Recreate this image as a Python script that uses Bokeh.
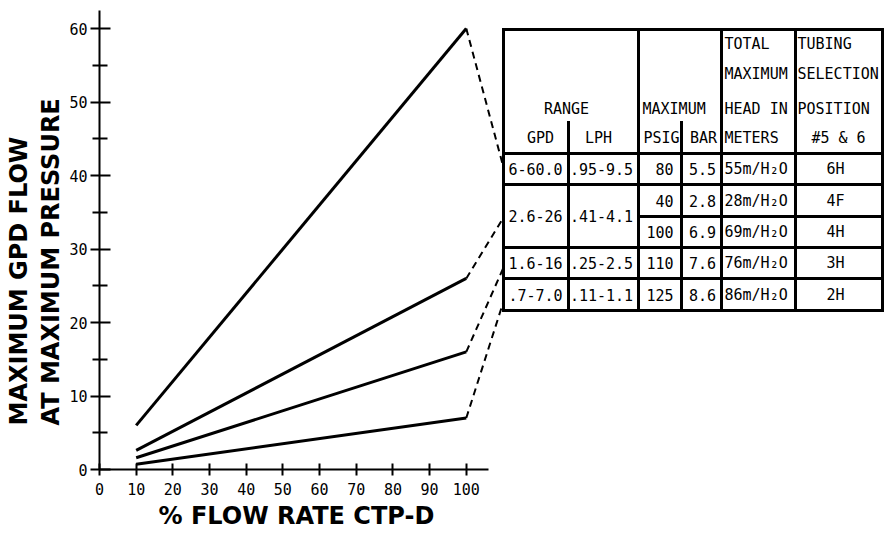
from bokeh.plotting import figure
from bokeh.models import Range1d, LinearAxis, FixedTicker, Title
from bokeh.core.properties import value
from bokeh.embed import file_html
from bokeh.resources import INLINE

# ---------------- data ----------------
flow_pct = [10, 100]
gpd_6h = [6.0, 60.0]
gpd_4h_26 = [2.6, 26.0]
gpd_3h = [1.6, 16.0]
gpd_2h = [0.7, 7.0]
series = [gpd_6h, gpd_4h_26, gpd_3h, gpd_2h]

x_ticks = [0, 10, 20, 30, 40, 50, 60, 70, 80, 90, 100]
y_ticks = [0, 10, 20, 30, 40, 50, 60]
y_minor = [5, 15, 25, 35, 45, 55]

range_gpd = ["6-60.0", "2.6-26", "1.6-16", ".7-7.0"]
range_lph = [".95-9.5", ".41-4.1", ".25-2.5", ".11-1.1"]
max_psig = ["80", "40", "100", "110", "125"]
max_bar = ["5.5", "2.8", "6.9", "7.6", "8.6"]
head_m = ["55m/H\u2082O", "28m/H\u2082O", "69m/H\u2082O", "76m/H\u2082O", "86m/H\u2082O"]
tubing = ["6H", "4F", "4H", "3H", "2H"]

# ---------------- figure ----------------
FONT = "DejaVu Sans Mono"
BOLD = "DejaVu Sans"
XR = Range1d(0, 214.3)
YR = Range1d(0, 62.45)

p = figure(width=887, height=533, output_backend="svg", toolbar_location=None,
           x_range=XR, y_range=YR, x_axis_type=None, y_axis_type=None,
           min_border_left=99, min_border_right=2, min_border_top=10, min_border_bottom=64)
p.outline_line_color = None
p.background_fill_color = "white"
p.border_fill_color = "white"
p.grid.visible = False

# pixel-space ranges for the table (page pixels)
PXR = Range1d(99, 885)
PYR = Range1d(469, 10)
p.extra_x_ranges = {"px": PXR}
p.extra_y_ranges = {"py": PYR}

def px_to_x(px):
    return XR.start + (px - PXR.start) / (PXR.end - PXR.start) * (XR.end - XR.start)

def py_to_y(py):
    return YR.start + (py - PYR.start) / (PYR.end - PYR.start) * (YR.end - YR.start)

xaxis = LinearAxis(ticker=FixedTicker(ticks=x_ticks), bounds=(0, 106))
xaxis.axis_line_width = 2
xaxis.major_tick_line_width = 2
xaxis.major_tick_in = 6
xaxis.major_tick_out = 6
xaxis.minor_tick_line_color = None
xaxis.major_label_standoff = 7
xaxis.major_label_text_font = FONT
xaxis.major_label_text_font_size = "15px"
xaxis.major_label_text_color = "black"
p.add_layout(xaxis, "below")

yaxis = LinearAxis(ticker=FixedTicker(ticks=y_ticks, minor_ticks=y_minor), bounds=(0, 62.4))
yaxis.axis_line_width = 2
yaxis.major_tick_line_width = 2
yaxis.minor_tick_line_width = 2
yaxis.major_tick_in = 11
yaxis.major_tick_out = 9
yaxis.minor_tick_in = 8
yaxis.minor_tick_out = 7
yaxis.major_label_standoff = 3
yaxis.major_label_text_font = FONT
yaxis.major_label_text_font_size = "15px"
yaxis.major_label_text_color = "black"
p.add_layout(yaxis, "left")

# axis titles (as side titles so they are not clipped)
t_kw = dict(text_font=BOLD, text_font_style="bold", text_font_size="24px",
            text_color="black", align="left")
p.add_layout(Title(text="AT MAXIMUM PRESSURE", offset=44, standoff=4, **t_kw), "left")
p.add_layout(Title(text="MAXIMUM GPD FLOW", offset=44, standoff=0, **t_kw), "left")
p.add_layout(Title(text="% FLOW RATE CTP-D", offset=59, standoff=4, **t_kw), "below")

# solid lines
for s in series:
    p.line(flow_pct, s, line_color="black", line_width=3)

# dashed leaders from line ends to table rows (table anchors in pixels)
anchor_py = [167, 217, 267, 301]
TABLE_L = 503
for s, apy in zip(series, anchor_py):
    p.line([flow_pct[-1], px_to_x(TABLE_L)], [s[-1], py_to_y(apy)],
           line_color="black", line_width=2, line_dash="7 5")

# ---------------- table ----------------
cols = [503, 568, 638, 681, 721, 795, 882]
top, hdr, r1, r2a, r2, r3, bot = 29, 153, 184, 216, 247, 278, 310

hx0, hx1, hy0, hy1 = [], [], [], []
def seg(x0, y0, x1, y1):
    hx0.append(x0); hy0.append(y0); hx1.append(x1); hy1.append(y1)

for yy in [top, hdr, r1, r2, r3, bot]:
    seg(cols[0], yy, cols[-1], yy)
seg(cols[2], r2a, cols[-1], r2a)
for xx in [cols[0], cols[2], cols[4], cols[5], cols[-1]]:
    seg(xx, top, xx, bot)
for xx in [cols[1], cols[3]]:
    seg(xx, 122, xx, bot)

p.segment(hx0, hy0, hx1, hy1, x_range_name="px", y_range_name="py",
          line_color="black", line_width=3, line_cap="square")

tx, ty, tt, ta = [], [], [], []
def txt(x, y, t, a="center"):
    tx.append(x); ty.append(y); tt.append(t); ta.append(a)

# header
txt(566, 108, "RANGE")
txt(540, 137, "GPD")
txt(598, 137, "LPH")
txt(642, 108, "MAXIMUM", "left")
txt(661, 137, "PSIG")
txt(703, 137, "BAR")
for yy, t in zip([43, 73, 108, 137], ["TOTAL", "MAXIMUM", "HEAD IN", "METERS"]):
    txt(724, yy, t, "left")
for yy, t in zip([43, 73, 108], ["TUBING", "SELECTION", "POSITION"]):
    txt(797, yy, t, "left")
txt(838, 137, "#5 & 6")

grp_y = [168.5, 215.5, 262.5, 294]
sub_y = [168.5, 200, 231.5, 262.5, 294]
for yy, g, l in zip(grp_y, range_gpd, range_lph):
    txt(535, yy, g)
    txt(601, yy, l)
for yy, ps, b, h, tb in zip(sub_y, max_psig, max_bar, head_m, tubing):
    txt(673, yy, ps, "right")
    txt(702, yy, b)
    txt(724, yy, h, "left")
    txt(835, yy, tb)

p.text(x=tx, y=ty, text=tt, text_align=ta, x_range_name="px", y_range_name="py",
       text_baseline="middle", text_font=value(FONT), text_font_size="15px",
       text_color="black")

open("out.html", "w").write(file_html(p, INLINE))
